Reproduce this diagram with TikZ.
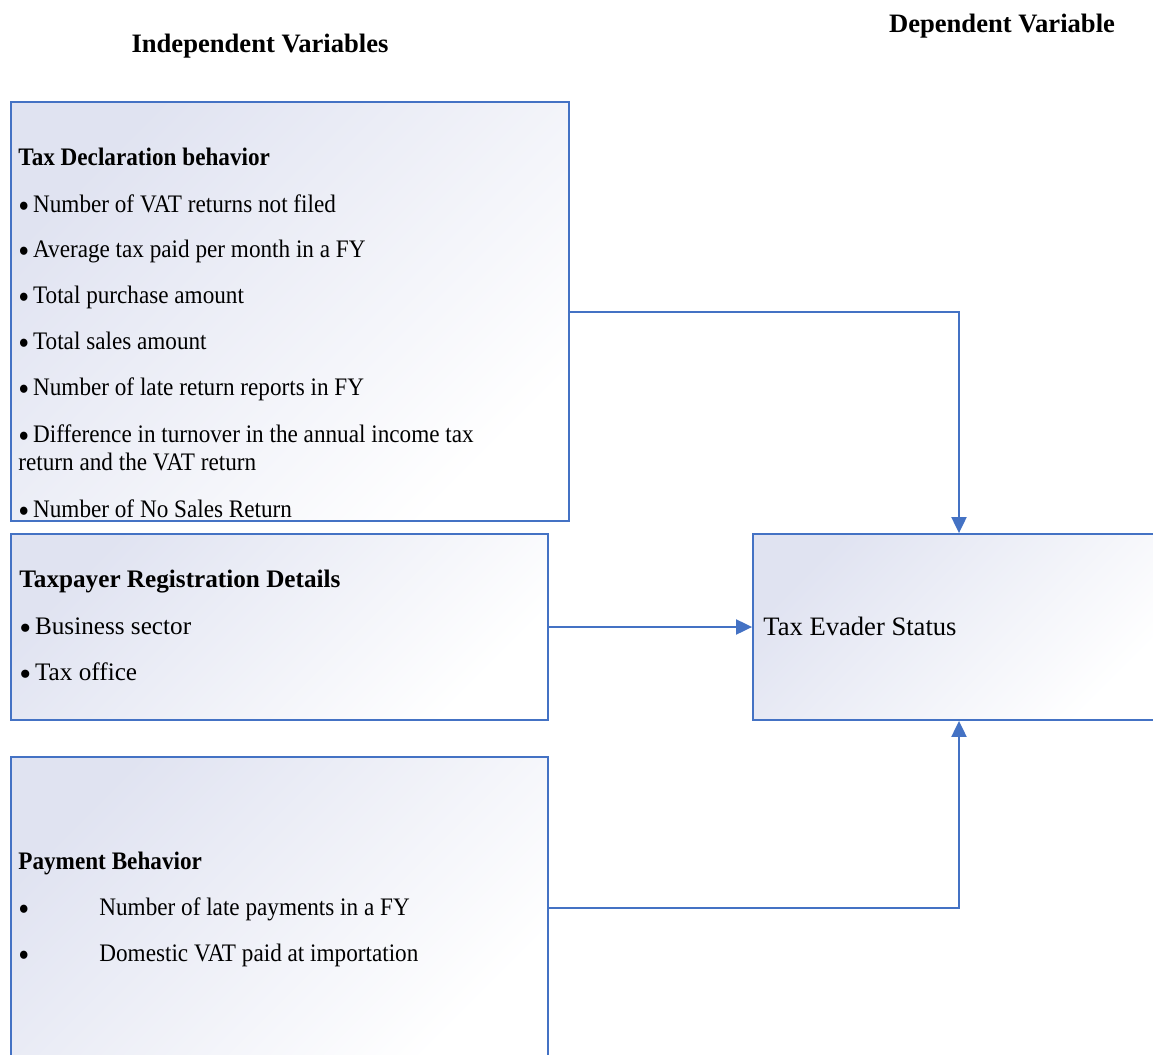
\documentclass[tikz,border=0pt]{standalone}
\usepackage{fontspec}
\setmainfont{Liberation Serif}
\newfontfamily\narrowfont{Liberation Serif}[FakeStretch=0.92]
\usetikzlibrary{arrows.meta,positioning,fit}
\definecolor{frameblue}{RGB}{68,114,196}
\definecolor{shadeblue}{RGB}{224,227,241}
\definecolor{shadepale}{RGB}{245,246,251}
\newcommand{\bul}{\raisebox{-0.45ex}{\scalebox{1.35}{\textbullet}}\hspace{0.15em}}
\begin{document}
\begin{tikzpicture}[x=0.5pt,y=-0.5pt,
  every node/.style={font=\fontsize{12.6}{15}\selectfont},
  varbox/.style={draw=frameblue,line width=.9pt,inner sep=0pt,shading=axis,top color=shadeblue,middle color=shadepale,bottom color=white,shading angle=45},
  txt/.style={anchor=base west,inner sep=0pt},
  ntxt/.style={txt,font=\fontsize{12.6}{14}\narrowfont},
  hdr/.style={anchor=base,inner sep=0pt,font=\fontsize{13.3}{16}\selectfont\bfseries},
  link/.style={draw=frameblue,line width=1pt,-{Triangle[length=8pt,width=7.5pt]}}]
\useasboundingbox (0,0) rectangle (1153,1055);
\clip (0,0) rectangle (1153,1055);
\node[hdr] (indep) at (260,52) {Independent Variables};
\node[hdr] (dep) at (1002,32) {Dependent Variable};
\node[varbox,fit={(11,102) (569,521)}] (decl) {};
\node[varbox,fit={(11,534) (548,720)}] (reg) {};
\node[varbox,fit={(11,757) (548,1059)}] (pay) {};
\node[varbox,fit={(753,534) (1165,720)}] (evader) {};
\node[ntxt,font=\fontsize{12.6}{15}\narrowfont\bfseries] (declh) at (18,165) {Tax Declaration behavior};
\node[ntxt] (d1) at (18,212) {\bul Number of VAT returns not filed};
\node[ntxt] (d2) at (18,257) {\bul Average tax paid per month in a FY};
\node[ntxt] (d3) at (18,303) {\bul Total purchase amount};
\node[ntxt] (d4) at (18,349) {\bul Total sales amount};
\node[ntxt] (d5) at (18,395) {\bul Number of late return reports in FY};
\node[ntxt,align=left] (d6) at (18,470) {\bul Difference in turnover in the annual income tax\\return and the VAT return};
\node[ntxt] (d7) at (18,517) {\bul Number of No Sales Return};
\node[txt,font=\fontsize{12.6}{15}\selectfont\bfseries] (regh) at (19,587) {Taxpayer Registration Details};
\node[txt] (r1) at (19,634) {\bul Business sector};
\node[txt] (r2) at (19,680) {\bul Tax office};
\node[ntxt,font=\fontsize{12.6}{15}\narrowfont\bfseries] (payh) at (18,869) {Payment Behavior};
\node[ntxt] (b1) at (18,915) {\bul};
\node[ntxt] (p1) at (99,915) {Number of late payments in a FY};
\node[ntxt] (b2) at (18,961) {\bul};
\node[ntxt] (p2) at (99,961) {Domestic VAT paid at importation};
\node[txt,font=\fontsize{13.3}{16}\selectfont] (evh) at (763,635) {Tax Evader Status};
\draw[link] (decl.east) -| (evader.north);
\draw[link] (reg.east) -- (evader.west);
\draw[link] (pay.east) -| (evader.south);
\end{tikzpicture}
\end{document}
